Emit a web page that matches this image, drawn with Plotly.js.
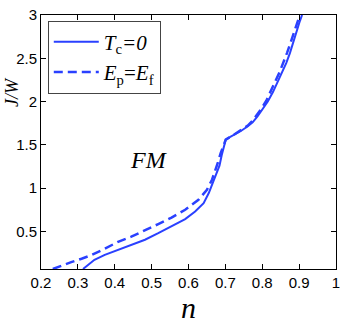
<!DOCTYPE html>
<html>
<head>
<meta charset="utf-8">
<script src="https://cdn.plot.ly/plotly-3.0.1.min.js"></script>
<style>
  html, body { margin: 0; padding: 0; background: #fff; }
  #chart { width: 346px; height: 324px; }
</style>
</head>
<body>
<div id="chart"></div>
<script>
// T_c = 0 curve
var nSolid = [0.314, 0.327, 0.345, 0.373, 0.409, 0.445, 0.482, 0.518, 0.554, 0.591, 0.618, 0.641, 0.655, 0.666, 0.676, 0.684, 0.690, 0.695, 0.701, 0.712, 0.724, 0.742, 0.760, 0.774, 0.787, 0.801, 0.815, 0.829, 0.842, 0.854, 0.865, 0.875, 0.883, 0.890, 0.896, 0.902, 0.908];
var jSolid = [0.066, 0.115, 0.173, 0.23, 0.288, 0.346, 0.404, 0.48, 0.558, 0.643, 0.731, 0.827, 0.943, 1.06, 1.16, 1.26, 1.38, 1.48, 1.56, 1.59, 1.617, 1.66, 1.712, 1.76, 1.828, 1.91, 2.0, 2.11, 2.23, 2.34, 2.445, 2.56, 2.675, 2.77, 2.867, 2.93, 3.0];

// E_p = E_f curve
var nDash = [0.232, 0.255, 0.282, 0.31, 0.336, 0.373, 0.409, 0.445, 0.482, 0.518, 0.554, 0.591, 0.627, 0.650, 0.664, 0.672, 0.680, 0.687, 0.693, 0.698, 0.701, 0.724, 0.742, 0.760, 0.773, 0.785, 0.798, 0.811, 0.824, 0.836, 0.847, 0.858, 0.867, 0.876, 0.884, 0.890, 0.896, 0.902];
var jDash = [0.066, 0.105, 0.145, 0.185, 0.225, 0.30, 0.38, 0.44, 0.51, 0.585, 0.66, 0.75, 0.865, 0.98, 1.10, 1.19, 1.30, 1.40, 1.48, 1.53, 1.56, 1.62, 1.665, 1.72, 1.775, 1.84, 1.92, 2.01, 2.12, 2.24, 2.34, 2.45, 2.56, 2.67, 2.77, 2.86, 2.93, 3.0];

var xTicks = [0.2, 0.3, 0.4, 0.5, 0.6, 0.7, 0.8, 0.9, 1];
var yTicks = [0.5, 1, 1.5, 2, 2.5, 3];

var blue = "#2a40ff";
var serif = "Liberation Serif, DejaVu Serif, serif";

var traces = [
  { x: nSolid, y: jSolid, type: "scatter", mode: "lines", name: "<i>T</i><sub>c</sub><i>=0</i>",
    line: { color: blue, width: 2 } },
  { x: nDash, y: jDash, type: "scatter", mode: "lines", name: "<i>E</i><sub>p</sub>=<i>E</i><sub>f</sub>",
    line: { color: blue, width: 2.5, dash: "9px,5px" } }
];

var axisBase = {
  showgrid: false, zeroline: false, showline: true, linecolor: "#000", linewidth: 1,
  mirror: "ticks", ticks: "inside", ticklen: 5, tickcolor: "#000",
  tickfont: { family: "Liberation Sans, Arial, sans-serif", size: 15, color: "#000" }
};

var layout = {
  width: 346, height: 324,
  margin: { l: 41, r: 10, t: 15, b: 55 },
  paper_bgcolor: "#fff", plot_bgcolor: "#fff",
  showlegend: true,
  legend: {
    x: 0.023, y: 0.978, xanchor: "left", yanchor: "top",
    bgcolor: "#fff", bordercolor: "#444", borderwidth: 1,
    itemwidth: 45,
    font: { family: serif, size: 21, color: "#000" }
  },
  xaxis: Object.assign({}, axisBase, {
    range: [0.2, 1], tickvals: xTicks, ticktext: xTicks.map(String),
    title: { text: "<i>n</i>", font: { family: serif, size: 30, color: "#000" }, standoff: 2 }
  }),
  yaxis: Object.assign({}, axisBase, {
    range: [0.066, 3], tickvals: yTicks, ticktext: yTicks.map(String)
  }),
  annotations: [
    { x: 0.493, y: 1.33, xref: "x", yref: "y", text: "<i>FM</i>", showarrow: false,
      font: { family: serif, size: 24, color: "#000" } },
    { x: -0.098, y: 0.697, xref: "paper", yref: "paper", text: "<i>J/W</i>", showarrow: false,
      textangle: -90, xanchor: "center", yanchor: "middle",
      font: { family: serif, size: 18, color: "#000" } }
  ]
};

Plotly.newPlot("chart", traces, layout, { displayModeBar: false, staticPlot: true });
</script>
</body>
</html>
